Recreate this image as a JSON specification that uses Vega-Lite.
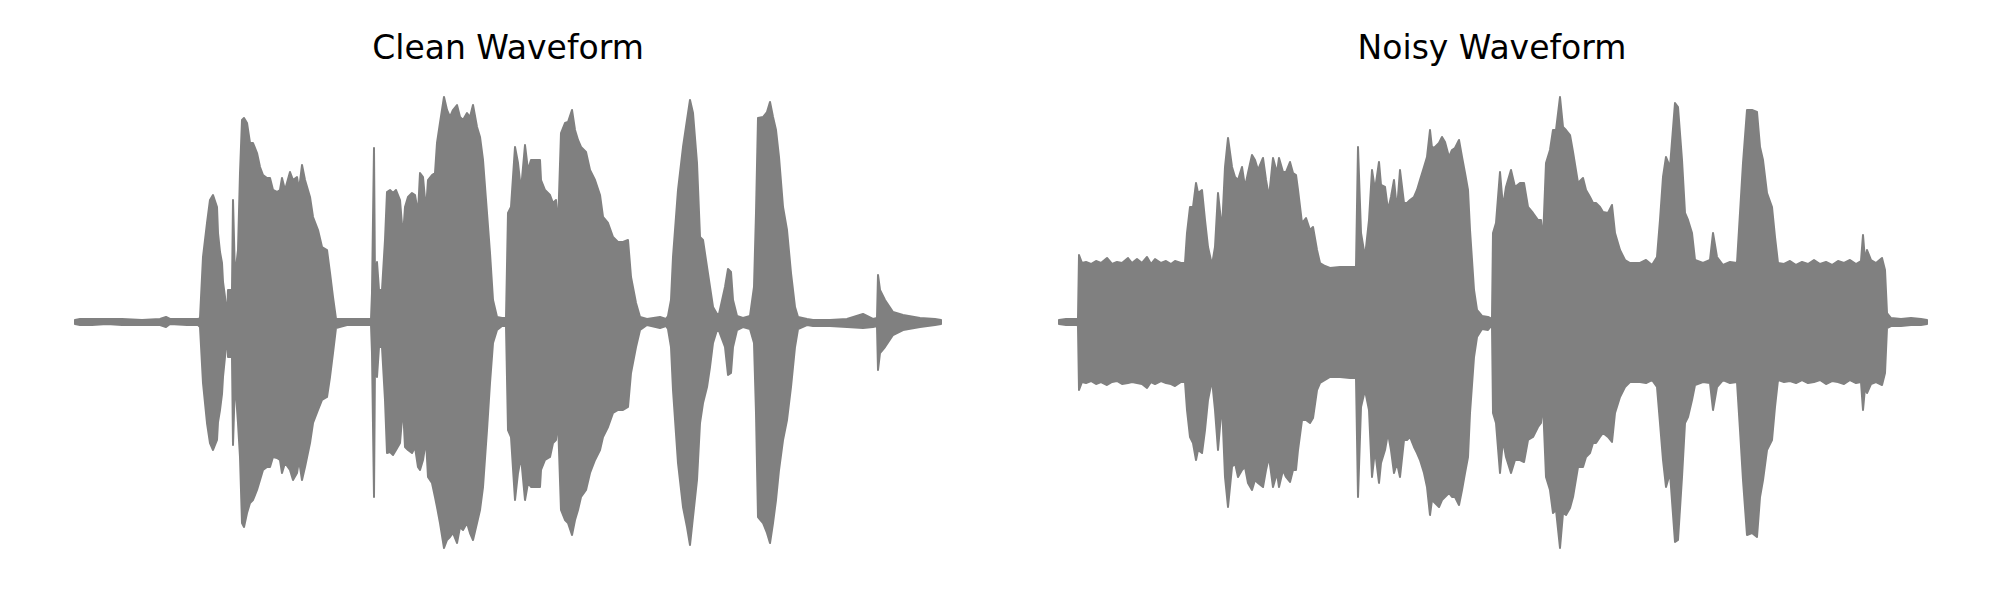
{
  "$schema": "https://vega.github.io/schema/vega-lite/v6.json",
  "background": "white",
  "padding": {"left": 32, "top": 33, "right": 0, "bottom": 0},
  "config": {
    "view": {"stroke": null},
    "concat": {"spacing": 32},
    "title": {"font": "DejaVu Sans", "fontSize": 33, "fontWeight": "normal", "color": "#000000", "offset": 6}
  },
  "datasets": {
    "clean": [
      {"t":43,"hi":2,"lo":-2},{"t":48,"hi":3,"lo":-3},{"t":60,"hi":3,"lo":-3},{"t":75,"hi":3,"lo":-2},{"t":90,"hi":3,"lo":-3},{"t":110,"hi":2,"lo":-3},{"t":128,"hi":3,"lo":-3},{"t":134,"hi":5,"lo":-5},{"t":138,"hi":3,"lo":-2},{"t":155,"hi":3,"lo":-3},{"t":166,"hi":3,"lo":-3},{"t":168,"hi":4,"lo":-5},
      {"t":171,"hi":65,"lo":-61},{"t":175,"hi":99,"lo":-101},{"t":178,"hi":122,"lo":-121},{"t":181,"hi":127,"lo":-128},{"t":185,"hi":115,"lo":-118},{"t":186,"hi":89,"lo":-100},{"t":188,"hi":70,"lo":-88},{"t":190,"hi":59,"lo":-72},{"t":191,"hi":40,"lo":-55},{"t":193,"hi":25,"lo":-35},{"t":195,"hi":5,"lo":-12},{"t":196,"hi":32,"lo":-35},{"t":200,"hi":32,"lo":-35},{"t":201,"hi":122,"lo":-123},{"t":203,"hi":45,"lo":-58},{"t":206,"hi":72,"lo":-101},{"t":208,"hi":149,"lo":-135},{"t":210,"hi":202,"lo":-201},{"t":212,"hi":204,"lo":-205},{"t":215,"hi":199,"lo":-191},{"t":218,"hi":179,"lo":-181},{"t":221,"hi":179,"lo":-178},{"t":225,"hi":169,"lo":-168},{"t":228,"hi":155,"lo":-158},{"t":231,"hi":147,"lo":-148},{"t":235,"hi":144,"lo":-145},{"t":238,"hi":144,"lo":-145},{"t":241,"hi":132,"lo":-135},{"t":245,"hi":130,"lo":-136},{"t":248,"hi":132,"lo":-138},{"t":250,"hi":144,"lo":-151},{"t":253,"hi":132,"lo":-141},{"t":258,"hi":150,"lo":-148},{"t":261,"hi":142,"lo":-158},{"t":265,"hi":145,"lo":-151},{"t":267,"hi":132,"lo":-138},{"t":270,"hi":157,"lo":-158},{"t":273,"hi":142,"lo":-145},{"t":278,"hi":125,"lo":-121},{"t":281,"hi":105,"lo":-101},{"t":286,"hi":92,"lo":-88},{"t":290,"hi":75,"lo":-78},{"t":295,"hi":72,"lo":-75},{"t":298,"hi":49,"lo":-55},{"t":301,"hi":25,"lo":-31},{"t":304,"hi":3,"lo":-6},
      {"t":315,"hi":3,"lo":-3},{"t":325,"hi":3,"lo":-3},{"t":339,"hi":3,"lo":-3},{"t":340,"hi":29,"lo":-31},{"t":342,"hi":174,"lo":-175},{"t":343,"hi":40,"lo":-40},{"t":345,"hi":60,"lo":-55},{"t":347,"hi":32,"lo":-25},{"t":350,"hi":32,"lo":-25},{"t":353,"hi":82,"lo":-78},{"t":355,"hi":130,"lo":-131},{"t":358,"hi":132,"lo":-130},{"t":361,"hi":129,"lo":-133},{"t":364,"hi":132,"lo":-128},{"t":368,"hi":122,"lo":-121},{"t":371,"hi":85,"lo":-85},{"t":373,"hi":115,"lo":-125},{"t":376,"hi":125,"lo":-128},{"t":380,"hi":129,"lo":-131},{"t":383,"hi":127,"lo":-125},{"t":386,"hi":109,"lo":-145},{"t":388,"hi":149,"lo":-148},{"t":391,"hi":145,"lo":-138},{"t":394,"hi":112,"lo":-118},{"t":396,"hi":142,"lo":-155},{"t":400,"hi":147,"lo":-161},{"t":403,"hi":149,"lo":-175},{"t":405,"hi":179,"lo":-185},{"t":408,"hi":199,"lo":-201},{"t":412,"hi":225,"lo":-226},{"t":415,"hi":212,"lo":-218},{"t":418,"hi":205,"lo":-215},{"t":421,"hi":212,"lo":-211},{"t":425,"hi":217,"lo":-221},{"t":428,"hi":205,"lo":-205},{"t":431,"hi":202,"lo":-208},{"t":435,"hi":209,"lo":-201},{"t":438,"hi":205,"lo":-211},{"t":441,"hi":217,"lo":-218},{"t":445,"hi":195,"lo":-201},{"t":448,"hi":185,"lo":-188},{"t":451,"hi":162,"lo":-165},{"t":455,"hi":109,"lo":-108},{"t":458,"hi":69,"lo":-61},{"t":461,"hi":22,"lo":-21},{"t":465,"hi":5,"lo":-8},{"t":470,"hi":4,"lo":-4},{"t":474,"hi":4,"lo":-4},
      {"t":476,"hi":109,"lo":-108},{"t":479,"hi":115,"lo":-115},{"t":483,"hi":175,"lo":-178},{"t":486,"hi":159,"lo":-151},{"t":489,"hi":132,"lo":-135},{"t":493,"hi":177,"lo":-178},{"t":496,"hi":152,"lo":-161},{"t":499,"hi":162,"lo":-165},{"t":504,"hi":162,"lo":-165},{"t":508,"hi":162,"lo":-165},{"t":509,"hi":142,"lo":-148},{"t":513,"hi":132,"lo":-138},{"t":518,"hi":127,"lo":-135},{"t":521,"hi":119,"lo":-121},{"t":524,"hi":122,"lo":-118},{"t":526,"hi":95,"lo":-98},{"t":529,"hi":189,"lo":-188},{"t":533,"hi":199,"lo":-198},{"t":536,"hi":200,"lo":-201},{"t":540,"hi":212,"lo":-213},{"t":543,"hi":192,"lo":-198},{"t":546,"hi":182,"lo":-188},{"t":549,"hi":175,"lo":-175},{"t":554,"hi":170,"lo":-168},{"t":558,"hi":152,"lo":-151},{"t":563,"hi":142,"lo":-138},{"t":568,"hi":127,"lo":-128},{"t":571,"hi":105,"lo":-115},{"t":576,"hi":99,"lo":-105},{"t":581,"hi":85,"lo":-91},{"t":586,"hi":80,"lo":-88},{"t":591,"hi":80,"lo":-88},{"t":596,"hi":82,"lo":-85},{"t":599,"hi":45,"lo":-51},{"t":604,"hi":19,"lo":-25},{"t":608,"hi":5,"lo":-8},
      {"t":615,"hi":3,"lo":-3},{"t":628,"hi":5,"lo":-6},{"t":634,"hi":3,"lo":-4},{"t":636,"hi":6,"lo":-7},{"t":639,"hi":22,"lo":-25},{"t":641,"hi":65,"lo":-68},{"t":646,"hi":132,"lo":-141},{"t":651,"hi":175,"lo":-185},{"t":655,"hi":202,"lo":-205},{"t":658,"hi":222,"lo":-223},{"t":661,"hi":209,"lo":-195},{"t":665,"hi":159,"lo":-158},{"t":668,"hi":85,"lo":-101},{"t":671,"hi":82,"lo":-81},{"t":675,"hi":55,"lo":-65},{"t":678,"hi":35,"lo":-45},{"t":681,"hi":15,"lo":-21},{"t":685,"hi":8,"lo":-8},{"t":687,"hi":8,"lo":-9},{"t":693,"hi":35,"lo":-25},{"t":696,"hi":53,"lo":-53},{"t":699,"hi":50,"lo":-51},{"t":701,"hi":22,"lo":-25},{"t":705,"hi":6,"lo":-8},{"t":711,"hi":4,"lo":-5},{"t":718,"hi":6,"lo":-7},
      {"t":722,"hi":35,"lo":-21},{"t":724,"hi":109,"lo":-91},{"t":726,"hi":204,"lo":-195},{"t":731,"hi":205,"lo":-201},{"t":735,"hi":210,"lo":-211},{"t":738,"hi":220,"lo":-221},{"t":741,"hi":205,"lo":-201},{"t":744,"hi":192,"lo":-178},{"t":747,"hi":165,"lo":-148},{"t":751,"hi":115,"lo":-118},{"t":755,"hi":92,"lo":-98},{"t":759,"hi":49,"lo":-65},{"t":763,"hi":15,"lo":-25},{"t":766,"hi":5,"lo":-7},
      {"t":775,"hi":3,"lo":-3},{"t":781,"hi":2,"lo":-4},{"t":798,"hi":2,"lo":-4},{"t":815,"hi":3,"lo":-5},{"t":831,"hi":8,"lo":-6},{"t":841,"hi":3,"lo":-5},{"t":845,"hi":4,"lo":-4},{"t":846,"hi":47,"lo":-48},{"t":848,"hi":32,"lo":-31},{"t":853,"hi":22,"lo":-25},{"t":861,"hi":10,"lo":-13},{"t":871,"hi":7,"lo":-8},{"t":888,"hi":4,"lo":-5},{"t":903,"hi":3,"lo":-3},{"t":909,"hi":2,"lo":-2}
    ],
    "noisy": [
      {"t":43,"hi":2,"lo":-2},{"t":50,"hi":3,"lo":-3},{"t":61,"hi":3,"lo":-3},{"t":62,"hi":4,"lo":-4},{"t":63,"hi":67,"lo":-68},{"t":66,"hi":59,"lo":-60},{"t":70,"hi":60,"lo":-61},{"t":75,"hi":58,"lo":-59},{"t":80,"hi":61,"lo":-62},{"t":85,"hi":59,"lo":-60},{"t":91,"hi":64,"lo":-63},{"t":96,"hi":58,"lo":-60},{"t":101,"hi":60,"lo":-59},{"t":106,"hi":59,"lo":-62},{"t":112,"hi":64,"lo":-61},{"t":116,"hi":59,"lo":-60},{"t":121,"hi":63,"lo":-61},{"t":126,"hi":59,"lo":-62},{"t":131,"hi":65,"lo":-66},{"t":135,"hi":58,"lo":-60},{"t":139,"hi":63,"lo":-62},{"t":145,"hi":59,"lo":-59},{"t":150,"hi":61,"lo":-61},{"t":155,"hi":58,"lo":-62},{"t":159,"hi":61,"lo":-64},{"t":165,"hi":59,"lo":-60},{"t":169,"hi":59,"lo":-60},
      {"t":171,"hi":89,"lo":-88},{"t":174,"hi":115,"lo":-115},{"t":177,"hi":115,"lo":-121},{"t":180,"hi":139,"lo":-138},{"t":182,"hi":129,"lo":-128},{"t":186,"hi":132,"lo":-131},{"t":189,"hi":102,"lo":-108},{"t":192,"hi":75,"lo":-78},{"t":196,"hi":57,"lo":-58},{"t":199,"hi":75,"lo":-88},{"t":202,"hi":129,"lo":-128},{"t":206,"hi":92,"lo":-81},{"t":209,"hi":155,"lo":-155},{"t":212,"hi":184,"lo":-185},{"t":216,"hi":155,"lo":-145},{"t":219,"hi":145,"lo":-141},{"t":222,"hi":142,"lo":-155},{"t":226,"hi":155,"lo":-148},{"t":229,"hi":135,"lo":-145},{"t":232,"hi":149,"lo":-161},{"t":236,"hi":167,"lo":-168},{"t":239,"hi":162,"lo":-158},{"t":242,"hi":152,"lo":-161},{"t":247,"hi":164,"lo":-165},{"t":250,"hi":142,"lo":-148},{"t":253,"hi":125,"lo":-135},{"t":257,"hi":164,"lo":-165},{"t":261,"hi":149,"lo":-151},{"t":263,"hi":164,"lo":-165},{"t":267,"hi":150,"lo":-148},{"t":270,"hi":150,"lo":-155},{"t":274,"hi":160,"lo":-160},{"t":277,"hi":149,"lo":-148},{"t":280,"hi":147,"lo":-148},{"t":282,"hi":132,"lo":-128},{"t":286,"hi":99,"lo":-98},{"t":290,"hi":104,"lo":-98},{"t":294,"hi":92,"lo":-101},{"t":297,"hi":95,"lo":-96},{"t":301,"hi":72,"lo":-68},{"t":304,"hi":59,"lo":-61},{"t":309,"hi":56,"lo":-58},{"t":314,"hi":54,"lo":-55},{"t":324,"hi":55,"lo":-55},{"t":334,"hi":55,"lo":-56},{"t":340,"hi":55,"lo":-56},
      {"t":342,"hi":175,"lo":-175},{"t":345,"hi":89,"lo":-85},{"t":349,"hi":65,"lo":-68},{"t":353,"hi":102,"lo":-88},{"t":356,"hi":152,"lo":-155},{"t":359,"hi":132,"lo":-128},{"t":363,"hi":160,"lo":-161},{"t":365,"hi":137,"lo":-141},{"t":369,"hi":135,"lo":-128},{"t":372,"hi":112,"lo":-111},{"t":375,"hi":125,"lo":-128},{"t":378,"hi":142,"lo":-151},{"t":381,"hi":112,"lo":-141},{"t":384,"hi":152,"lo":-155},{"t":388,"hi":119,"lo":-118},{"t":391,"hi":119,"lo":-118},{"t":394,"hi":122,"lo":-115},{"t":398,"hi":125,"lo":-125},{"t":401,"hi":132,"lo":-131},{"t":404,"hi":142,"lo":-138},{"t":408,"hi":155,"lo":-151},{"t":411,"hi":165,"lo":-165},{"t":414,"hi":192,"lo":-193},{"t":416,"hi":174,"lo":-178},{"t":419,"hi":175,"lo":-181},{"t":423,"hi":179,"lo":-185},{"t":426,"hi":185,"lo":-178},{"t":429,"hi":180,"lo":-175},{"t":433,"hi":165,"lo":-171},{"t":436,"hi":172,"lo":-175},{"t":439,"hi":174,"lo":-175},{"t":443,"hi":182,"lo":-183},{"t":446,"hi":165,"lo":-168},{"t":449,"hi":149,"lo":-151},{"t":452,"hi":132,"lo":-135},{"t":454,"hi":92,"lo":-91},{"t":458,"hi":32,"lo":-35},{"t":461,"hi":12,"lo":-15},{"t":466,"hi":6,"lo":-7},{"t":472,"hi":5,"lo":-8},{"t":476,"hi":3,"lo":-3},
      {"t":477,"hi":89,"lo":-91},{"t":480,"hi":99,"lo":-101},{"t":484,"hi":150,"lo":-151},{"t":487,"hi":115,"lo":-118},{"t":490,"hi":135,"lo":-135},{"t":495,"hi":152,"lo":-151},{"t":499,"hi":135,"lo":-138},{"t":504,"hi":139,"lo":-138},{"t":508,"hi":139,"lo":-140},{"t":512,"hi":115,"lo":-118},{"t":517,"hi":109,"lo":-115},{"t":522,"hi":102,"lo":-105},{"t":525,"hi":102,"lo":-101},{"t":527,"hi":82,"lo":-81},{"t":530,"hi":159,"lo":-155},{"t":534,"hi":172,"lo":-168},{"t":537,"hi":192,"lo":-191},{"t":540,"hi":192,"lo":-188},{"t":544,"hi":225,"lo":-226},{"t":547,"hi":195,"lo":-191},{"t":550,"hi":192,"lo":-193},{"t":554,"hi":187,"lo":-186},{"t":557,"hi":170,"lo":-175},{"t":562,"hi":139,"lo":-145},{"t":567,"hi":144,"lo":-145},{"t":570,"hi":132,"lo":-135},{"t":574,"hi":125,"lo":-131},{"t":577,"hi":119,"lo":-121},{"t":580,"hi":119,"lo":-121},{"t":584,"hi":115,"lo":-115},{"t":587,"hi":110,"lo":-111},{"t":592,"hi":109,"lo":-115},{"t":596,"hi":117,"lo":-120},{"t":599,"hi":89,"lo":-91},{"t":604,"hi":72,"lo":-75},{"t":609,"hi":62,"lo":-65},{"t":614,"hi":59,"lo":-60},{"t":620,"hi":59,"lo":-60},{"t":624,"hi":59,"lo":-60},{"t":630,"hi":62,"lo":-61},{"t":636,"hi":57,"lo":-58},{"t":641,"hi":65,"lo":-65},
      {"t":644,"hi":102,"lo":-101},{"t":647,"hi":145,"lo":-138},{"t":650,"hi":165,"lo":-165},{"t":654,"hi":155,"lo":-151},{"t":659,"hi":219,"lo":-220},{"t":662,"hi":215,"lo":-218},{"t":666,"hi":162,"lo":-155},{"t":669,"hi":109,"lo":-101},{"t":672,"hi":102,"lo":-95},{"t":676,"hi":89,"lo":-78},{"t":679,"hi":62,"lo":-63},{"t":687,"hi":59,"lo":-60},{"t":694,"hi":62,"lo":-61},{"t":697,"hi":89,"lo":-88},{"t":701,"hi":65,"lo":-65},{"t":707,"hi":57,"lo":-58},{"t":714,"hi":60,"lo":-61},{"t":721,"hi":59,"lo":-60},
      {"t":724,"hi":109,"lo":-108},{"t":727,"hi":159,"lo":-158},{"t":731,"hi":212,"lo":-213},{"t":736,"hi":212,"lo":-211},{"t":741,"hi":210,"lo":-215},{"t":744,"hi":175,"lo":-175},{"t":747,"hi":162,"lo":-158},{"t":751,"hi":129,"lo":-128},{"t":756,"hi":115,"lo":-118},{"t":759,"hi":85,"lo":-85},{"t":762,"hi":59,"lo":-58},{"t":768,"hi":58,"lo":-60},{"t":774,"hi":61,"lo":-59},{"t":780,"hi":57,"lo":-61},{"t":786,"hi":60,"lo":-58},{"t":792,"hi":58,"lo":-61},{"t":798,"hi":62,"lo":-60},{"t":804,"hi":58,"lo":-58},{"t":810,"hi":60,"lo":-62},{"t":816,"hi":57,"lo":-59},{"t":822,"hi":61,"lo":-60},{"t":828,"hi":59,"lo":-62},{"t":834,"hi":62,"lo":-58},{"t":840,"hi":58,"lo":-61},{"t":845,"hi":61,"lo":-60},{"t":847,"hi":87,"lo":-88},{"t":849,"hi":62,"lo":-66},{"t":851,"hi":72,"lo":-71},{"t":855,"hi":62,"lo":-62},{"t":860,"hi":59,"lo":-60},{"t":866,"hi":64,"lo":-63},{"t":869,"hi":52,"lo":-51},{"t":871,"hi":9,"lo":-6},{"t":875,"hi":4,"lo":-4},{"t":885,"hi":3,"lo":-4},{"t":895,"hi":4,"lo":-3},{"t":905,"hi":3,"lo":-3},{"t":911,"hi":2,"lo":-2}
    ]
  },
  "hconcat": [
    {
      "title": "Clean Waveform",
      "width": 952,
      "height": 500,
      "data": {"name": "clean"},
      "mark": {"type": "area", "color": "#808080", "stroke": "#808080", "strokeWidth": 2, "strokeJoin": "round", "strokeCap": "round", "opacity": 1},
      "encoding": {
        "x": {"field": "t", "type": "quantitative", "scale": {"domain": [0, 952], "nice": false, "zero": false}, "axis": null},
        "y": {"field": "hi", "type": "quantitative", "scale": {"domain": [-250, 250], "nice": false}, "axis": null},
        "y2": {"field": "lo"}
      }
    },
    {
      "title": "Noisy Waveform",
      "width": 952,
      "height": 500,
      "data": {"name": "noisy"},
      "mark": {"type": "area", "color": "#808080", "stroke": "#808080", "strokeWidth": 2, "strokeJoin": "round", "strokeCap": "round", "opacity": 1},
      "encoding": {
        "x": {"field": "t", "type": "quantitative", "scale": {"domain": [0, 952], "nice": false, "zero": false}, "axis": null},
        "y": {"field": "hi", "type": "quantitative", "scale": {"domain": [-250, 250], "nice": false}, "axis": null},
        "y2": {"field": "lo"}
      }
    }
  ]
}
